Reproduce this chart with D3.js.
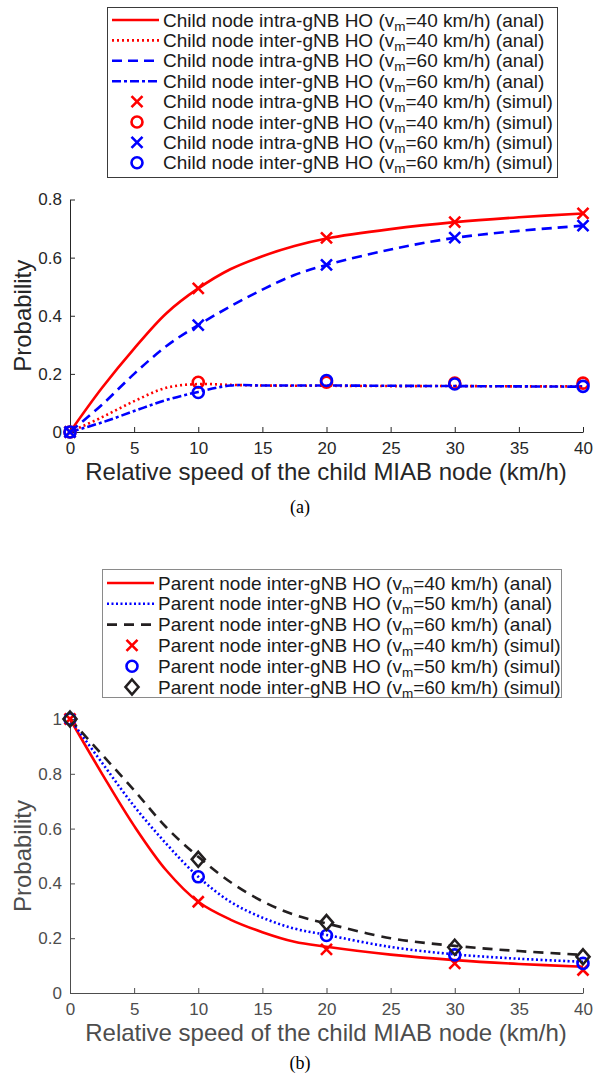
<!DOCTYPE html>
<html>
<head>
<meta charset="utf-8">
<script src="https://cdn.jsdelivr.net/npm/d3@7/dist/d3.min.js"></script>
<style>
  body { margin: 0; background: #fff; }
  svg { display: block; }
</style>
</head>
<body>
<div id="chart"></div>
<script>
// shared x values (relative speed, km/h)
const speedTicks = [0, 5, 10, 15, 20, 25, 30, 35, 40];
const anaSpeeds = [0, 2.5, 5, 7.5, 10, 12.5, 15, 17.5, 20, 25, 30, 35, 40];
const simSpeeds = [0, 10, 20, 30, 40];

// (a) child node HO probability
const childTicksY = [0, 0.2, 0.4, 0.6, 0.8];
const childIntra40Anal = [0, 0.152, 0.287, 0.408, 0.494, 0.56, 0.605, 0.64, 0.666, 0.698, 0.722, 0.739, 0.752];
const childInter40Anal = [0, 0.051, 0.106, 0.152, 0.165, 0.162, 0.160, 0.159, 0.159, 0.158, 0.158, 0.157, 0.157];
const childIntra60Anal = [0, 0.094, 0.2, 0.295, 0.368, 0.432, 0.49, 0.54, 0.575, 0.628, 0.668, 0.692, 0.71];
const childInter60Anal = [0, 0.033, 0.072, 0.11, 0.138, 0.16, 0.16, 0.16, 0.16, 0.159, 0.158, 0.157, 0.156];
const childIntra40Sim = [0, 0.494, 0.668, 0.722, 0.752];
const childInter40Sim = [0, 0.171, 0.171, 0.168, 0.168];
const childIntra60Sim = [0, 0.368, 0.575, 0.669, 0.71];
const childInter60Sim = [0, 0.136, 0.177, 0.165, 0.157];

// (b) parent node inter-gNB HO probability
const parentTicksY = [0, 0.2, 0.4, 0.6, 0.8, 1];
const parent40Anal = [1, 0.8, 0.61, 0.448, 0.333, 0.268, 0.222, 0.187, 0.169, 0.14, 0.12, 0.106, 0.096];
const parent50Anal = [1, 0.84, 0.682, 0.545, 0.424, 0.333, 0.275, 0.235, 0.212, 0.168, 0.141, 0.125, 0.114];
const parent60Anal = [1, 0.87, 0.74, 0.605, 0.497, 0.405, 0.335, 0.285, 0.254, 0.2, 0.172, 0.153, 0.139];
const parent40Sim = [1, 0.333, 0.159, 0.108, 0.084];
const parent50Sim = [1, 0.424, 0.21, 0.139, 0.108];
const parent60Sim = [1, 0.488, 0.257, 0.167, 0.132];

const RED = '#ff0000', BLUE = '#0000ff', BLACK = '#231f20';
const FONT = '"Liberation Sans", Arial, Helvetica, sans-serif';

const childSeries = [
    {kind: 'line', values: childIntra40Anal, color: RED, dash: null, who: 'intra', vm: 40, tag: 'anal'},
    {kind: 'line', values: childInter40Anal, color: RED, dash: '2,3', who: 'inter', vm: 40, tag: 'anal'},
    {kind: 'line', values: childIntra60Anal, color: BLUE, dash: '10,6', who: 'intra', vm: 60, tag: 'anal'},
    {kind: 'line', values: childInter60Anal, color: BLUE, dash: '9,3,3,3', who: 'inter', vm: 60, tag: 'anal'},
    {kind: 'x', values: childIntra40Sim, color: RED, who: 'intra', vm: 40, tag: 'simul'},
    {kind: 'o', values: childInter40Sim, color: RED, who: 'inter', vm: 40, tag: 'simul'},
    {kind: 'x', values: childIntra60Sim, color: BLUE, who: 'intra', vm: 60, tag: 'simul'},
    {kind: 'o', values: childInter60Sim, color: BLUE, who: 'inter', vm: 60, tag: 'simul'}
].map(s => Object.assign(s, {pre: `Child node ${s.who}-gNB HO (v`}));

const parentSeries = [
    {kind: 'line', values: parent40Anal, color: RED, dash: null, vm: 40, tag: 'anal'},
    {kind: 'line', values: parent50Anal, color: BLUE, dash: '2,2.5', vm: 50, tag: 'anal'},
    {kind: 'line', values: parent60Anal, color: BLACK, dash: '10,7', vm: 60, tag: 'anal'},
    {kind: 'x', values: parent40Sim, color: RED, vm: 40, tag: 'simul'},
    {kind: 'o', values: parent50Sim, color: BLUE, vm: 50, tag: 'simul'},
    {kind: 'd', values: parent60Sim, color: BLACK, vm: 60, tag: 'simul'}
].map(s => Object.assign(s, {pre: 'Parent node inter-gNB HO (v'}));

const svg = d3.select('#chart').append('svg')
    .attr('width', 598)
    .attr('height', 1079)
    .style('font-family', FONT);

svg.append('rect').attr('width', 598).attr('height', 1079).attr('fill', '#fff');

const drawMarker = (sel, kind, color) => {
    if (kind === 'x') {
        sel.append('path').attr('d', 'M-5.5,-5.5L5.5,5.5M-5.5,5.5L5.5,-5.5')
            .attr('stroke', color).attr('stroke-width', 2.6).attr('fill', 'none');
    } else if (kind === 'o') {
        sel.append('circle').attr('r', 5.5)
            .attr('stroke', color).attr('stroke-width', 2.6).attr('fill', 'none');
    } else {
        sel.append('path').attr('d', 'M0,-7.5L6.5,0L0,7.5L-6.5,0Z')
            .attr('stroke', color).attr('stroke-width', 2.6).attr('fill', 'none');
    }
};

/**
 * one panel: axes, curves, markers, legend, caption
 */
const drawPanel = (p) => {
    const g = svg.append('g');
    const x = d3.scaleLinear().domain([0, 40]).range([70, 583]);
    const y = d3.scaleLinear().domain([0, p.yMax]).range([p.bottom, p.top]);

    const xAxis = g.append('g')
        .attr('transform', `translate(0,${p.bottom})`)
        .call(d3.axisBottom(x).tickValues(speedTicks).tickSizeInner(-5).tickSizeOuter(0).tickPadding(10));
    const yAxis = g.append('g')
        .attr('transform', 'translate(70,0)')
        .call(d3.axisLeft(y).tickValues(p.ticksY).tickFormat(d => String(d)).tickSizeInner(-5).tickSizeOuter(0).tickPadding(8));

    [xAxis, yAxis].forEach(a => {
        a.attr('font-family', FONT).attr('font-size', 17);
        a.selectAll('path, line').attr('stroke', p.axisColor).attr('stroke-width', 1);
        a.selectAll('text').attr('fill', p.axisColor);
    });

    g.append('text')
        .attr('x', 326).attr('y', p.bottom + 48)
        .attr('text-anchor', 'middle')
        .attr('font-size', 24).attr('fill', p.axisColor)
        .text('Relative speed of the child MIAB node (km/h)');

    g.append('text')
        .attr('transform', `translate(31,${(p.top + p.bottom) / 2}) rotate(-90)`)
        .attr('text-anchor', 'middle')
        .attr('font-size', 24).attr('fill', p.axisColor)
        .text('Probability');

    const line = d3.line()
        .x((d, i) => x(anaSpeeds[i]))
        .y(d => y(d))
        .curve(d3.curveCatmullRom.alpha(0.5));

    p.series.filter(s => s.kind === 'line').forEach(s => {
        g.append('path')
            .attr('d', line(s.values))
            .attr('fill', 'none')
            .attr('stroke', s.color)
            .attr('stroke-width', 2.6)
            .attr('stroke-dasharray', s.dash);
    });

    p.series.filter(s => s.kind !== 'line').forEach(s => {
        g.selectAll(null)
            .data(s.values)
            .enter()
            .append('g')
            .attr('transform', (d, i) => `translate(${x(simSpeeds[i])},${y(d)})`)
            .each(function () { drawMarker(d3.select(this), s.kind, s.color); });
    });

    // legend
    const L = p.legend;
    const leg = g.append('g');
    leg.append('rect')
        .attr('x', L.x + 0.5).attr('y', L.y + 0.5)
        .attr('width', L.w).attr('height', L.h)
        .attr('fill', '#fff').attr('stroke', L.border).attr('stroke-width', 1);

    p.series.forEach((s, i) => {
        const cy = L.y + L.first + i * L.step;
        if (s.kind === 'line') {
            leg.append('line')
                .attr('x1', L.x + 5).attr('x2', L.x + 52)
                .attr('y1', cy).attr('y2', cy)
                .attr('stroke', s.color).attr('stroke-width', 2.6)
                .attr('stroke-dasharray', s.dash);
        } else {
            drawMarker(leg.append('g').attr('transform', `translate(${L.x + 30},${cy})`), s.kind, s.color);
        }
        const t = leg.append('text')
            .attr('x', L.x + 56).attr('y', cy + 6.5)
            .attr('font-size', 19).attr('fill', '#1a1a1a');
        t.append('tspan').text(s.pre);
        t.append('tspan').attr('font-size', 13.5).attr('dy', 4).text('m');
        t.append('tspan').attr('dy', -4).text(`=${s.vm} km/h) (${s.tag})`);
    });

    g.append('text')
        .attr('x', 300).attr('y', p.caption)
        .attr('text-anchor', 'middle')
        .attr('font-family', '"Liberation Serif", "Times New Roman", serif')
        .attr('font-size', 18).attr('fill', '#000')
        .text(p.label);
};

drawPanel({
    series: childSeries, yMax: 0.8, ticksY: childTicksY,
    top: 199.5, bottom: 432, axisColor: '#262626',
    legend: {x: 107, y: 7, w: 450, h: 170, first: 13, step: 20.4, border: '#3a3a3a'},
    caption: 513, label: '(a)'
});

drawPanel({
    series: parentSeries, yMax: 1, ticksY: parentTicksY,
    top: 719, bottom: 993, axisColor: '#4d4d4d',
    legend: {x: 102, y: 569, w: 459, h: 128, first: 14, step: 20.8, border: '#8a8a8a'},
    caption: 1069, label: '(b)'
});
</script>
</body>
</html>
